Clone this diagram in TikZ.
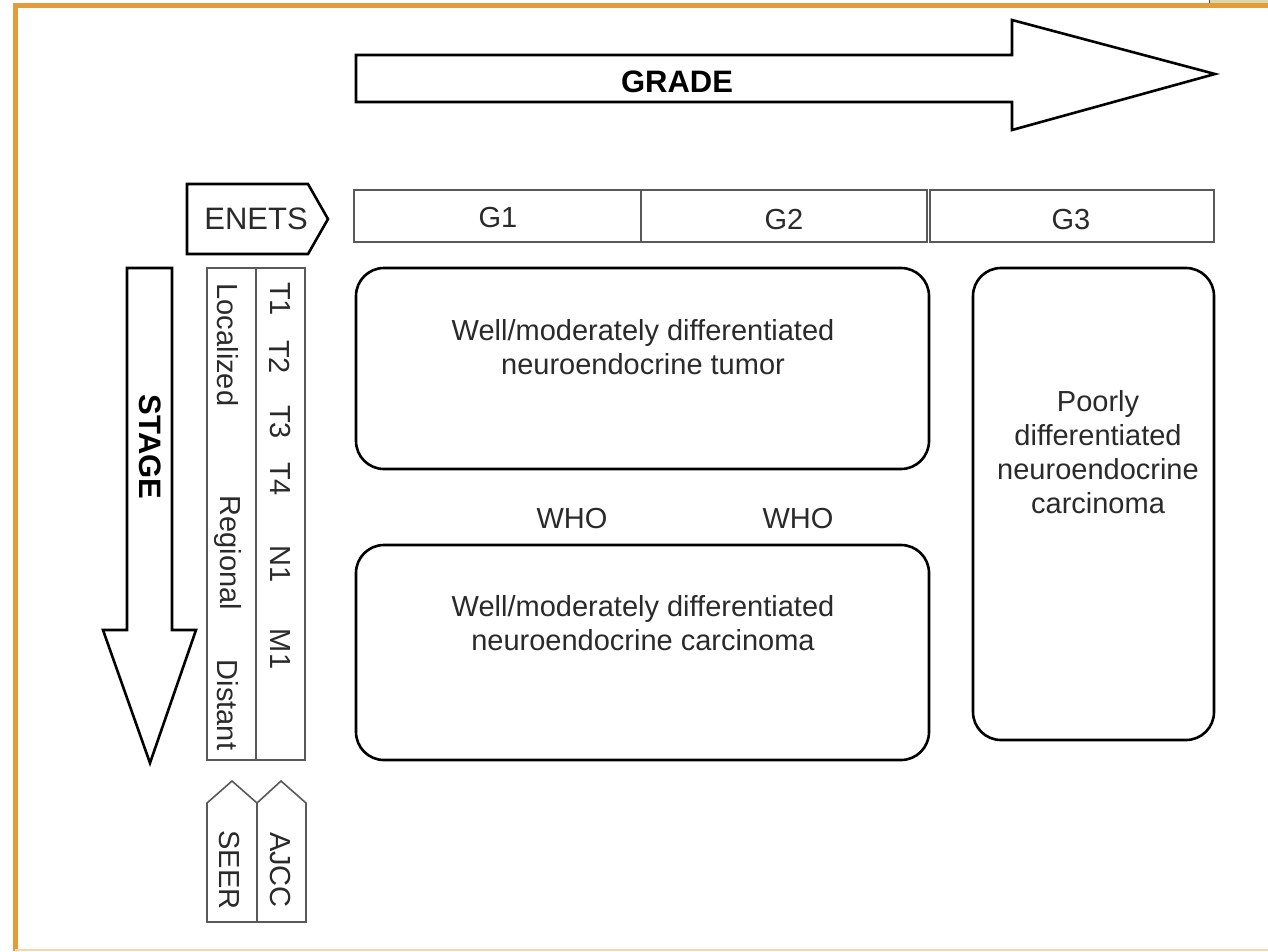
\documentclass[tikz,border=0pt]{standalone}
\usepackage{fontspec}
\setmainfont{Liberation Sans}
\definecolor{framec}{HTML}{E39B3C}
\definecolor{framelight}{HTML}{F7D7A6}
\definecolor{tanc}{HTML}{DCD8AC}
\definecolor{txt}{HTML}{2A2A2A}
\tikzset{
  bold shape/.style={draw=black, line width=2.6pt, line join=miter, fill=white},
  thin shape/.style={draw=black!65, line width=1.6pt, fill=white},
  rbox/.style={draw=black, line width=2.6pt, rounded corners=28pt},
  lbl/.style={text=txt, inner sep=0pt, font=\fontsize{29}{34}\selectfont, align=center},
  vlbl/.style={lbl, rotate=-90},
  big/.style={text=black, inner sep=0pt, font=\fontsize{31}{36}\selectfont\bfseries}
}
\begin{document}
\begin{tikzpicture}[x=1pt,y=-1pt]
\useasboundingbox (0,0) rectangle (1268,951);
\fill[white] (0,0) rectangle (1268,951);
% frame
\fill[tanc] (1209,0) rectangle (1268,3);
\draw[black!70, line width=1pt] (1209,0) -- (1209,3);
\draw[framec, line width=5pt] (15,951) -- (15,5.5) -- (1268,5.5);
\draw[framelight, line width=2pt] (15,950) -- (1268,950);

% GRADE arrow
\draw[bold shape] (356,55) -- (1012,55) -- (1012,20) -- (1215,74) -- (1012,130) -- (1012,102) -- (356,102) -- cycle;
\node[big] (grade) at (677,82) {GRADE};

% ENETS
\draw[bold shape] (187,184) -- (308,184) -- (328,219) -- (308,254) -- (187,254) -- cycle;
\node[lbl, font=\fontsize{31}{36}\selectfont] (enets) at (256,219) {ENETS};

% G boxes
\draw[thin shape] (354,190) rectangle (641,242);
\draw[thin shape] (641,190) rectangle (927,242);
\draw[thin shape] (930,190) rectangle (1214,242);
\node[lbl] (g1) at (498,218) {G1};
\node[lbl] (g2) at (784,220) {G2};
\node[lbl] (g3) at (1071,220) {G3};

% rounded boxes
\draw[rbox] (356,268) rectangle (929,469);
\node[lbl] (tumor) at (643,347) {Well/moderately differentiated\\neuroendocrine tumor};
\draw[rbox] (356,545) rectangle (929,760);
\node[lbl] (carc) at (643,623) {Well/moderately differentiated\\neuroendocrine carcinoma};
\draw[rbox] (973,268) rectangle (1214,740);
\node[lbl] (poor) at (1098,452) {Poorly\\differentiated\\neuroendocrine\\carcinoma};

\node[lbl] (who1) at (572,519) {WHO};
\node[lbl] (who2) at (798,519) {WHO};

% STAGE arrow
\draw[bold shape] (127,268) -- (172,268) -- (172,630) -- (196,630) -- (150,763) -- (103,630) -- (127,630) -- cycle;
\node[big, rotate=-90] (stage) at (150,447) {STAGE};

% stage strip
\draw[thin shape] (207,268) rectangle (305,760);
\draw[black!65, line width=1.6pt] (256,268) -- (256,760);
\node[vlbl] (loc) at (228,345) {Localized};
\node[vlbl] (reg) at (228,553) {Regional};
\node[vlbl] (dist) at (228,705) {Distant};
\node[vlbl] (t1) at (280,299) {T1};
\node[vlbl] (t2) at (280,357) {T2};
\node[vlbl] (t3) at (280,422) {T3};
\node[vlbl] (t4) at (280,479) {T4};
\node[vlbl] (n1) at (280,564) {N1};
\node[vlbl] (m1) at (280,649) {M1};

% SEER / AJCC
\draw[thin shape] (207,922) -- (207,803) -- (232,781) -- (257,803) -- (281,781) -- (306,803) -- (306,922) -- cycle;
\draw[black!65, line width=1.6pt] (257,803) -- (257,922);
\node[vlbl] (seer) at (229,870) {SEER};
\node[vlbl] (ajcc) at (280,870) {AJCC};
\end{tikzpicture}
\end{document}
